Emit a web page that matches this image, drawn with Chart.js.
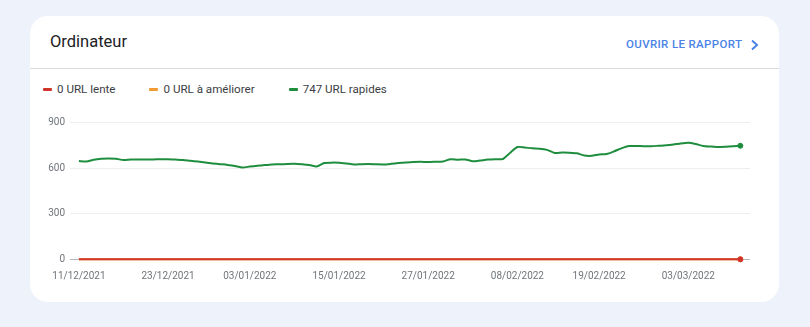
<!DOCTYPE html>
<html>
<head>
<meta charset="utf-8">
<script src="https://cdn.jsdelivr.net/npm/chart.js@4.4.1/dist/chart.umd.min.js"></script>
<style>
    body { margin: 0; width: 810px; height: 327px; overflow: hidden; background: #eef2fb; font-family: Roboto, sans-serif; position: relative; }
    .card { position: absolute; left: 30px; top: 16px; width: 749px; height: 286px; background: #fff; border-radius: 18px; }
    .title { position: absolute; left: 20px; top: 16px; font-size: 16.5px; color: #202124; line-height: normal; }
    .link { position: absolute; left: 596px; top: 21px; font-size: 11.5px; font-weight: 500; letter-spacing: 0.35px; color: #4a83e6; line-height: normal; }
    .chev { position: absolute; left: 720px; top: 23px; }
    .sep { position: absolute; left: 0; right: 0; top: 52px; height: 1px; background: #dadce0; }
    #legend { position: absolute; left: 13px; top: 66px; display: flex; gap: 34px; font-size: 11.6px; color: #3c4043; line-height: 14px; }
    #legend .item { display: flex; align-items: center; }
    #legend .dash { width: 9px; height: 3px; border-radius: 1px; margin-right: 5px; }
    .plot { position: absolute; left: 0; top: 84px; width: 749px; height: 200px; }
</style>
</head>
<body>
<div class="card">
    <div class="title">Ordinateur</div>
    <div class="link">OUVRIR LE RAPPORT</div>
    <svg class="chev" width="10" height="12"><polyline points="2,1.5 7,6 2,10.5" fill="none" stroke="#4a83e6" stroke-width="2"/></svg>
    <div class="sep"></div>
    <div id="legend"></div>
    <div class="plot"><canvas id="chart"></canvas></div>
</div>
<script>
// series labels / colours
const SERIES_LABELS = ["0 URL lente", "0 URL à améliorer", "747 URL rapides"];
const SERIES_COLORS = ["#d0342a", "#f29b32", "#1e8e3e"];

// one value per day, 11/12/2021 -> 10/03/2022
const SLOW = [
    0, 0, 0, 0, 0, 0, 0, 0, 0, 0, 0, 0, 0, 0, 0, 0, 0, 0, 0, 0, 0, 0, 0, 0, 0, 0, 0, 0, 0, 0,
    0, 0, 0, 0, 0, 0, 0, 0, 0, 0, 0, 0, 0, 0, 0, 0, 0, 0, 0, 0, 0, 0, 0, 0, 0, 0, 0, 0, 0, 0,
    0, 0, 0, 0, 0, 0, 0, 0, 0, 0, 0, 0, 0, 0, 0, 0, 0, 0, 0, 0, 0, 0, 0, 0, 0, 0, 0, 0, 0, 0
];
const MEDIUM = [
    0, 0, 0, 0, 0, 0, 0, 0, 0, 0, 0, 0, 0, 0, 0, 0, 0, 0, 0, 0, 0, 0, 0, 0, 0, 0, 0, 0, 0, 0,
    0, 0, 0, 0, 0, 0, 0, 0, 0, 0, 0, 0, 0, 0, 0, 0, 0, 0, 0, 0, 0, 0, 0, 0, 0, 0, 0, 0, 0, 0,
    0, 0, 0, 0, 0, 0, 0, 0, 0, 0, 0, 0, 0, 0, 0, 0, 0, 0, 0, 0, 0, 0, 0, 0, 0, 0, 0, 0, 0, 0
];
const FAST = [
    647, 643, 655, 661, 663, 661, 653, 656, 656, 657, 657, 659, 658, 656, 654, 648, 643, 637, 631, 626,
    621, 614, 604, 610, 615, 620, 624, 625, 627, 628, 625, 620, 611, 634, 636, 635, 630, 624, 626, 627,
    625, 624, 628, 633, 637, 640, 641, 640, 642, 644, 658, 655, 657, 645, 650, 656, 659, 659, 700, 739,
    735, 730, 728, 720, 700, 702, 701, 697, 683, 681, 690, 693, 710, 730, 745, 746, 744, 744, 747, 750,
    755, 762, 766, 758, 746, 742, 739, 741, 744, 747
];

// x axis ticks (day index from 11/12/2021)
const TICK_DAYS = [0, 12, 23, 35, 47, 59, 70, 82];
const TICK_LABELS = ["11/12/2021", "23/12/2021", "03/01/2022", "15/01/2022", "27/01/2022", "08/02/2022", "19/02/2022", "03/03/2022"];

const Y_TICKS = [0, 300, 600, 900];

function buildLegend() {
    var el = document.getElementById('legend');
    SERIES_LABELS.forEach(function (label, i) {
        var item = document.createElement('div');
        item.className = 'item';
        item.innerHTML = '<span class="dash" style="background:' + SERIES_COLORS[i] + '"></span>' + label;
        el.appendChild(item);
    });
}

function makeDataset(values, i) {
    var last = values.length - 1;
    return {
        label: SERIES_LABELS[i],
        data: values.map(function (v, d) { return { x: d, y: v }; }),
        borderColor: SERIES_COLORS[i],
        backgroundColor: SERIES_COLORS[i],
        borderWidth: 2,
        tension: 0.2,
        fill: false,
        clip: false,
        pointRadius: function (ctx) { return ctx.dataIndex === last ? 2.5 : 0; },
        pointBorderWidth: 1,
        pointHoverRadius: 0
    };
}

window.onload = function () {
    buildLegend();
    var ctx = document.getElementById('chart');
    new Chart(ctx, {
        type: 'line',
        data: {
            datasets: [makeDataset(SLOW, 0), makeDataset(MEDIUM, 1), makeDataset(FAST, 2)]
        },
        options: {
            responsive: true,
            maintainAspectRatio: false,
            animation: false,
            layout: { padding: { top: 22.5, right: 29, bottom: 11, left: 0 } },
            plugins: { legend: { display: false }, tooltip: { enabled: false } },
            scales: {
                x: {
                    type: 'linear',
                    min: -1.2,
                    max: 90.3,
                    afterBuildTicks: function (scale) {
                        scale.ticks = TICK_DAYS.map(function (d) { return { value: d }; });
                    },
                    afterFit: function (scale) { scale.height = 29.7; },
                    grid: { display: false, drawTicks: false },
                    border: { display: false },
                    ticks: {
                        autoSkip: false,
                        maxRotation: 0,
                        padding: 11,
                        color: '#70757a',
                        font: { family: 'Roboto', size: 10 },
                        callback: function (v) { return TICK_LABELS[TICK_DAYS.indexOf(v)]; }
                    }
                },
                y: {
                    min: 0,
                    max: 900,
                    afterBuildTicks: function (scale) {
                        scale.ticks = Y_TICKS.map(function (v) { return { value: v }; });
                    },
                    afterFit: function (scale) { scale.width = 40; },
                    grid: {
                        drawTicks: false,
                        color: function (c) { return c.tick && c.tick.value === 0 ? '#b5b8bc' : '#eeeeee'; },
                        lineWidth: 1
                    },
                    border: { display: false },
                    ticks: {
                        padding: 5,
                        color: '#70757a',
                        font: { family: 'Roboto', size: 10 }
                    }
                }
            }
        }
    });
}
</script>
</body>
</html>
